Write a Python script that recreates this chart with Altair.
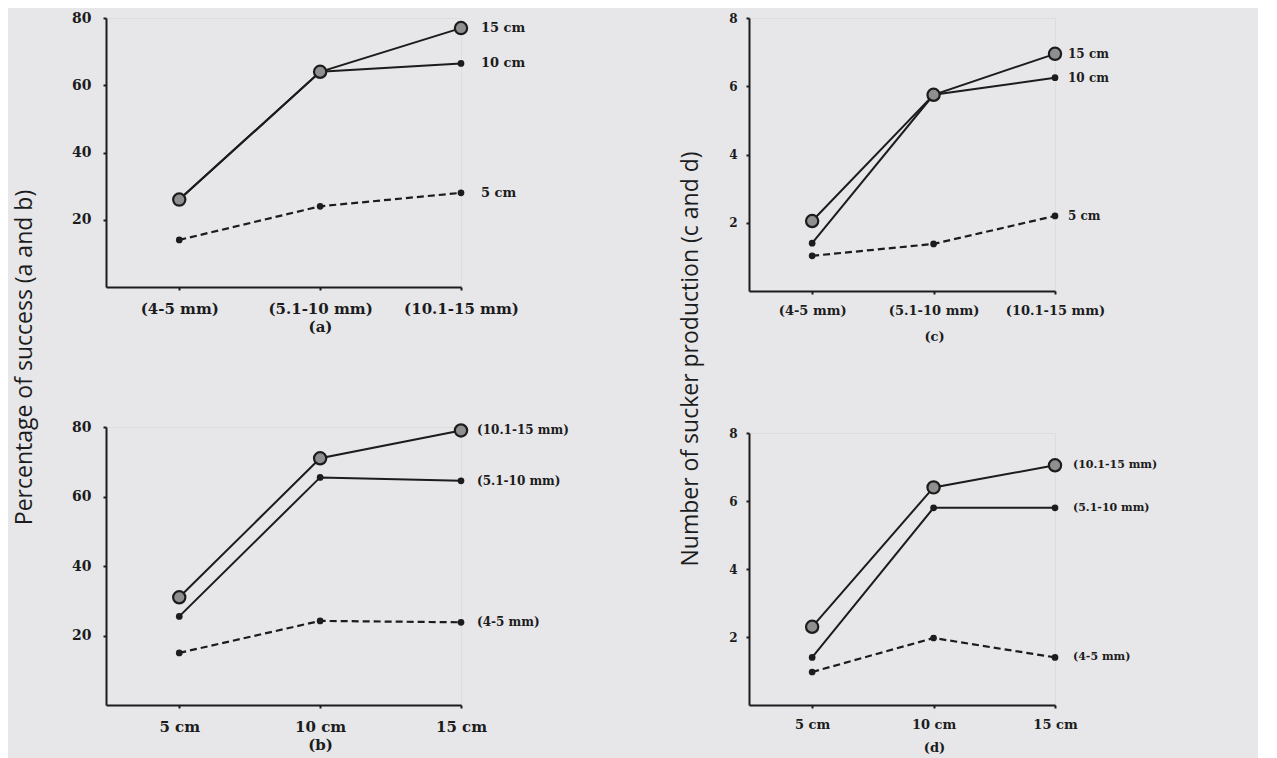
import json
import altair as alt
import pandas as pd

# ---------------- data ----------------
x_labels_diam = ["(4-5 mm)", "(5.1-10 mm)", "(10.1-15 mm)"]
x_labels_len = ["5 cm", "10 cm", "15 cm"]

# (a) percentage of success vs cutting diameter, series = cutting length
series_a = ["15 cm", "10 cm", "5 cm"]
a_15cm = [26, 64, 77]
a_10cm = [26, 64, 66.5]
a_5cm = [14, 24, 28]

# (b) percentage of success vs cutting length, series = diameter
series_b = ["(10.1-15 mm)", "(5.1-10 mm)", "(4-5 mm)"]
b_10_15 = [31, 71, 79]
b_5_10 = [25.5, 65.5, 64.5]
b_4_5 = [15, 24.2, 23.8]

# (c) number of suckers vs diameter, series = length
series_c = ["15 cm", "10 cm", "5 cm"]
c_15cm = [2.05, 5.75, 6.95]
c_10cm = [1.4, 5.75, 6.25]
c_5cm = [1.03, 1.38, 2.2]

# (d) number of suckers vs length, series = diameter
series_d = ["(10.1-15 mm)", "(5.1-10 mm)", "(4-5 mm)"]
d_10_15 = [2.3, 6.4, 7.05]
d_5_10 = [1.4, 5.8, 5.8]
d_4_5 = [0.97, 1.97, 1.4]

styles = ["ring", "dot", "dash"]

INK = "#1c1c1c"
BG = "#e7e7ea"


def make_df(names, values):
    rows = []
    for name, vals, st in zip(names, values, styles):
        for i, v in enumerate(vals):
            rows.append({"xi": i, "value": v, "series": name, "style": st})
    return pd.DataFrame(rows)


def panel(df, ymax, yvals, xlabels, letter, width, height, lab_size, end_size,
          mid_px, lab_pad, title_pad, ylab_pad, end_dx):
    expr = json.dumps(xlabels) + "[datum.value]"
    x = alt.X(
        "xi:Q",
        scale=alt.Scale(domain=[-0.52, 2], nice=False, zero=False),
        axis=alt.Axis(
            values=[0, 1, 2], labelExpr=expr, title=letter, grid=False,
            domainColor=INK, domainWidth=2, tickColor=INK, tickSize=3, tickWidth=2,
            labelFont="DejaVu Serif", labelFontWeight="bold", labelFontSize=lab_size,
            labelColor=INK, labelPadding=lab_pad, labelFlush=False,
            titleFont="DejaVu Serif", titleFontWeight="bold", titleFontSize=lab_size,
            titleColor=INK, titleX=mid_px, titleAnchor="start", titleAlign="center",
            titlePadding=title_pad,
        ),
    )
    y = alt.Y(
        "value:Q",
        scale=alt.Scale(domain=[0, ymax], nice=False),
        axis=alt.Axis(
            values=yvals, title=None, grid=False,
            domainColor=INK, domainWidth=2, tickColor=INK, tickSize=3, tickWidth=2,
            labelFont="DejaVu Serif", labelFontWeight="bold", labelFontSize=lab_size - 1,
            labelColor=INK, labelPadding=ylab_pad,
        ),
    )
    base = alt.Chart(df).encode(x=x, y=y)
    solid = base.transform_filter("datum.style != 'dash'").mark_line(
        color=INK, strokeWidth=2).encode(detail="series:N")
    dashed = base.transform_filter("datum.style == 'dash'").mark_line(
        color=INK, strokeWidth=2.2, strokeDash=[7, 4])
    dots = base.transform_filter("datum.style != 'ring'").mark_circle(
        size=45, color=INK, opacity=1)
    rings = base.transform_filter("datum.style == 'ring'").mark_point(
        shape="circle", size=150, fill="#8f8f8f", fillOpacity=1,
        stroke=INK, strokeWidth=2.2, opacity=1)
    labels = base.transform_filter("datum.xi == 2").mark_text(
        align="left", baseline="middle", dx=end_dx, font="DejaVu Serif",
        fontWeight="bold", fontSize=end_size, color=INK).encode(text="series:N")
    return alt.layer(solid, dashed, dots, rings, labels).properties(
        width=width, height=height)


pa = panel(make_df(series_a, [a_15cm, a_10cm, a_5cm]), 80, [20, 40, 60, 80],
           x_labels_diam, "(a)", 355, 269, 15, 13, 214, 11, 3, 12, 20)
pb = panel(make_df(series_b, [b_10_15, b_5_10, b_4_5]), 80, [20, 40, 60, 80],
           x_labels_len, "(b)", 355, 278, 15, 12, 214, 11, 3, 12, 16)
pc = panel(make_df(series_c, [c_15cm, c_10cm, c_5cm]), 8, [2, 4, 6, 8],
           x_labels_diam, "(c)", 306, 273, 13, 12, 185, 10, 13, 9, 13)
pd_ = panel(make_df(series_d, [d_10_15, d_5_10, d_4_5]), 8, [2, 4, 6, 8],
            x_labels_len, "(d)", 306, 272, 13, 11, 185, 10, 10, 9, 18)

left = alt.vconcat(pa, pb, spacing=84, title=alt.TitleParams(
    "Percentage of success (a and b)", orient="left", anchor="middle",
    font="Open Sans", fontSize=23, fontWeight="normal", color=INK, offset=34,
    dx=24))
right = alt.vconcat(pc, pd_, spacing=82, title=alt.TitleParams(
    "Number of sucker production (c and d)", orient="left", anchor="middle",
    font="Open Sans", fontSize=23, fontWeight="normal", color=INK, offset=25,
    dx=24))

chart = alt.hconcat(left, right, spacing=110).configure_view(
    stroke=None).configure(background=BG,
                           padding={"left": 6, "top": 2, "right": 100, "bottom": 4})

chart.save("out.html", embed_options={"renderer": "svg", "actions": False})
